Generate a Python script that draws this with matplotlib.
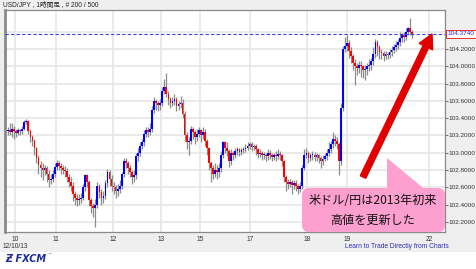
import matplotlib
matplotlib.use("Agg")
import matplotlib.pyplot as plt
from matplotlib.patches import FancyBboxPatch, Polygon, FancyArrow
from matplotlib.transforms import IdentityTransform, blended_transform_factory

plt.rcParams['font.family'] = ['Liberation Sans', 'Noto Sans CJK JP', 'DejaVu Sans']

# ---------------- data ----------------
first_open = 103.25
closes = [
    103.26, 103.24, 103.27, 103.25, 103.23, 103.26, 103.25, 103.28, 103.36, 103.37,
    103.25, 103.18, 103.14, 103.05, 102.94, 102.86, 102.82, 102.80, 102.82, 102.76,
    102.68, 102.70, 102.76, 102.84, 102.88, 102.85, 102.82, 102.80, 102.79, 102.72,
    102.66, 102.62, 102.52, 102.48, 102.45, 102.47, 102.48, 102.60, 102.74, 102.66,
    102.45, 102.38, 102.36, 102.40, 102.62, 102.55, 102.48, 102.50, 102.65, 102.78,
    102.70, 102.62, 102.60, 102.56, 102.58, 102.62, 102.75, 102.90, 102.88, 102.82,
    102.78, 102.72, 102.74, 102.96, 103.00, 103.08, 103.12, 103.22, 103.26, 103.24,
    103.28, 103.50, 103.60, 103.57, 103.55, 103.58, 103.72, 103.76, 103.68, 103.62,
    103.58, 103.60, 103.62, 103.54, 103.56, 103.58, 103.45, 103.20, 103.12, 103.14,
    103.28, 103.24, 103.18, 103.22, 103.26, 103.20, 103.24, 103.14, 103.05, 102.88,
    102.82, 102.76, 102.80, 102.78, 102.82, 102.98, 103.12, 103.06, 103.02, 102.90,
    103.00, 102.98, 103.02, 103.04, 103.01, 103.03, 103.04, 103.06, 103.08, 103.10,
    103.07, 103.08, 103.04, 102.99, 103.00, 102.97, 102.98, 102.96, 103.00, 102.98,
    102.95, 102.97, 102.96, 102.99, 102.97, 102.90, 102.72, 102.66, 102.64, 102.66,
    102.63, 102.65, 102.62, 102.58, 102.62, 102.82, 102.98, 103.00, 102.94, 102.97,
    102.98, 102.95, 102.97, 102.94, 102.90, 102.93, 102.96, 103.00, 103.04, 103.10,
    103.16, 103.14, 103.10, 102.90, 103.52, 104.20, 104.24, 104.27, 104.18, 104.12,
    104.04, 104.00, 103.98, 104.02, 104.00, 103.96, 103.97, 104.00, 104.02, 104.06,
    104.14, 104.28, 104.22, 104.17, 104.15, 104.12, 104.14, 104.13, 104.16, 104.19,
    104.22, 104.25, 104.28, 104.33, 104.36, 104.34, 104.40, 104.44, 104.40, 104.374,
]
highs = [
    103.30, 103.35, 103.34, 103.31, 103.28, 103.29, 103.28, 103.31, 103.38, 103.39,
    103.38, 103.27, 103.20, 103.16, 103.07, 102.98, 102.90, 102.88, 102.86, 102.85,
    102.80, 102.76, 102.80, 102.88, 102.92, 102.91, 102.88, 102.86, 102.85, 102.82,
    102.76, 102.72, 102.66, 102.56, 102.52, 102.52, 102.54, 102.64, 102.76, 102.76,
    102.68, 102.48, 102.42, 102.46, 102.66, 102.64, 102.58, 102.56, 102.68, 102.81,
    102.80, 102.74, 102.66, 102.63, 102.64, 102.68, 102.78, 102.94, 102.94, 102.90,
    102.86, 102.80, 102.80, 103.00, 103.06, 103.12, 103.16, 103.26, 103.30, 103.30,
    103.34, 103.54, 103.64, 103.62, 103.60, 103.62, 103.76, 103.85, 103.92, 103.72,
    103.65, 103.64, 103.68, 103.64, 103.60, 103.66, 103.62, 103.48, 103.24, 103.18,
    103.31, 103.30, 103.26, 103.28, 103.30, 103.28, 103.30, 103.27, 103.16, 103.07,
    102.90, 102.86, 102.88, 102.86, 102.88, 103.02, 103.14, 103.14, 103.12, 103.04,
    103.04, 103.02, 103.06, 103.07, 103.06, 103.06, 103.07, 103.10, 103.12, 103.12,
    103.12, 103.10, 103.10, 103.06, 103.04, 103.02, 103.01, 103.00, 103.04, 103.03,
    103.00, 103.00, 103.02, 103.04, 103.02, 102.99, 102.92, 102.74, 102.70, 102.70,
    102.68, 102.69, 102.68, 102.64, 102.66, 102.86, 103.04, 103.06, 103.02, 103.00,
    103.02, 103.01, 103.00, 102.99, 102.96, 102.97, 103.00, 103.04, 103.12, 103.14,
    103.24, 103.20, 103.18, 103.12, 103.58, 104.24, 104.34, 104.36, 104.30, 104.22,
    104.14, 104.08, 104.04, 104.06, 104.06, 104.02, 104.02, 104.04, 104.08, 104.10,
    104.22, 104.31, 104.30, 104.25, 104.20, 104.18, 104.18, 104.17, 104.20, 104.23,
    104.26, 104.29, 104.32, 104.40, 104.39, 104.40, 104.44, 104.46, 104.56, 104.42,
]
lows = [
    103.20, 103.20, 103.18, 103.16, 103.18, 103.20, 103.21, 103.22, 103.26, 103.33,
    103.22, 103.12, 103.08, 102.98, 102.88, 102.76, 102.72, 102.68, 102.74, 102.66,
    102.60, 102.64, 102.66, 102.72, 102.80, 102.80, 102.76, 102.75, 102.72, 102.66,
    102.60, 102.56, 102.44, 102.40, 102.38, 102.40, 102.42, 102.45, 102.56, 102.60,
    102.38, 102.30, 102.26, 102.14, 102.36, 102.48, 102.40, 102.42, 102.46, 102.60,
    102.62, 102.56, 102.52, 102.48, 102.50, 102.54, 102.58, 102.72, 102.82, 102.76,
    102.72, 102.64, 102.66, 102.70, 102.90, 102.96, 103.04, 103.08, 103.18, 103.18,
    103.20, 103.24, 103.46, 103.50, 103.48, 103.50, 103.54, 103.68, 103.64, 103.55,
    103.52, 103.54, 103.55, 103.48, 103.50, 103.52, 103.40, 103.14, 103.04, 102.98,
    103.10, 103.16, 103.10, 103.14, 103.18, 103.12, 103.16, 103.08, 102.98, 102.80,
    102.66, 102.70, 102.72, 102.70, 102.72, 102.78, 102.94, 103.00, 102.96, 102.84,
    102.86, 102.92, 102.94, 102.98, 102.96, 102.98, 103.00, 103.01, 103.03, 103.04,
    103.02, 103.03, 102.98, 102.94, 102.95, 102.92, 102.93, 102.90, 102.92, 102.93,
    102.90, 102.92, 102.91, 102.93, 102.92, 102.85, 102.66, 102.56, 102.58, 102.60,
    102.52, 102.58, 102.56, 102.52, 102.55, 102.58, 102.80, 102.94, 102.88, 102.90,
    102.92, 102.90, 102.90, 102.88, 102.82, 102.86, 102.90, 102.92, 102.96, 103.00,
    103.05, 103.08, 103.04, 102.74, 102.86, 103.48, 104.16, 104.18, 104.10, 104.04,
    103.96, 103.78, 103.90, 103.92, 103.88, 103.86, 103.84, 103.90, 103.94, 103.96,
    104.02, 104.10, 104.12, 104.08, 104.08, 104.06, 104.08, 104.08, 104.10, 104.12,
    104.15, 104.18, 104.20, 104.24, 104.28, 104.28, 104.30, 104.36, 104.36, 104.33,
]
last_price = 104.374
y_ticks = [102.2, 102.4, 102.6, 102.8, 103.0, 103.2, 103.4, 103.6, 103.8, 104.0, 104.2, 104.4]
x_tick_pos = [3.4, 23.6, 51.7, 75.4, 94.6, 119.2, 147.3, 167.0, 207.4]
x_tick_labels = ["10", "11", "12", "13", "15", "17", "18", "19", "22"]
title = "USD/JPY , 1時間足 , # 200 / 500"
date_label = "12/10/13"
link_text = "Learn to Trade Directly from Charts"
note_lines = ["米ドル/円は2013年初来", "高値を更新した"]

opens = [first_open] + closes[:-1]
idx = list(range(len(closes)))

# ---------------- figure ----------------
W, H = 477, 269
fig = plt.figure(figsize=(W / 100, H / 100), dpi=100, facecolor="#efefef")

def px(x, y):
    return (x, H - y)

# white strip at bottom
fig.patches.append(plt.Rectangle((0, 0), 1, 17 / H, transform=fig.transFigure,
                                 facecolor="white", edgecolor="none", zorder=0))

ax = fig.add_axes([5 / W, (H - 232) / H, 440 / W, 222 / H])
ax.set_facecolor("white")
ax.set_xlim(-1.5, 215.3)
ax.set_ylim(102.084, 104.651)

ax.grid(True, color="#e6e6e6", linewidth=1.2, zorder=0)
ax.set_axisbelow(True)

# candles
up_x = [i for i in idx if closes[i] >= opens[i]]
dn_x = [i for i in idx if closes[i] < opens[i]]
ax.vlines(idx, lows, highs, color="#8c8c8c", linewidth=0.9, zorder=2)
def bodies(sel, color):
    bottoms = [min(opens[i], closes[i]) for i in sel]
    heights = [max(abs(closes[i] - opens[i]), 0.012) for i in sel]
    ax.bar(sel, heights, bottom=bottoms, width=0.85, color=color, linewidth=0, zorder=3)
bodies(up_x, "#0000ff")
bodies(dn_x, "#ff0000")

ax.axhline(last_price, color="#3d3df0", linewidth=0.8, linestyle=(0, (3, 2)), zorder=4)

# axes styling
ax.yaxis.tick_right()
ax.set_yticks(y_ticks)
ax.set_yticklabels([f"{v:.4f}" if v < 104.3 else "" for v in y_ticks])
ax.set_xticks(x_tick_pos)
ax.set_xticklabels(x_tick_labels)
ax.tick_params(axis="y", which="both", labelsize=4.6, labelcolor="#333333",
               length=2.0, color="#777777", pad=0.3)
ax.tick_params(axis="x", labelsize=4.8, labelcolor="#333333", length=0, pad=3)
for s in ["top", "bottom", "right"]:
    ax.spines[s].set_color("#8a8a8a")
    ax.spines[s].set_linewidth(0.9)
ax.spines["left"].set_color("#8a8a8a")
ax.spines["left"].set_linewidth(2.0)

# last-price box
tr = blended_transform_factory(ax.transAxes, ax.transData)
ax.text(1.006, last_price, f"{last_price:.4f}", transform=tr, fontsize=4.6,
        color="#2222ee", va="center", ha="left",
        bbox=dict(boxstyle="square,pad=0.2", facecolor="white", edgecolor="#e03030", linewidth=0.7),
        clip_on=False)

# texts
fig.text(3 / W, 1 - 5 / H, title, fontsize=4.8, color="#222222", va="center", ha="left")
fig.text(3 / W, 1 - 247 / H, date_label, fontsize=4.8, color="#333333", va="center", ha="left")
fig.text(397 / W, 1 - 247 / H, link_text, fontsize=4.8, color="#2d2db8", va="center", ha="center")
fig.text(5 / W, 1 - 259 / H, "Ƶ FXCM", fontsize=7, color="#1c2d9c", va="center", ha="left",
         family="DejaVu Sans", fontweight="bold", style="italic")
fig.text(47 / W, 1 - 255 / H, "™", fontsize=3, color="#1c2d9c", va="center", ha="left",
         family="DejaVu Sans")

# callout (pixel coordinates)
idt = IdentityTransform()
pink = "#fd9fcf"
box = FancyBboxPatch(px(302, 232), 143, 44, boxstyle="round,pad=0,rounding_size=7",
                     transform=idt, facecolor=pink, edgecolor="none", zorder=5)
fig.patches.append(box)
tri = Polygon([px(387, 158), px(387, 192), px(428, 192)], closed=True, transform=idt,
              facecolor=pink, edgecolor="none", zorder=5)
fig.patches.append(tri)

x0, y0 = px(363, 177)
x1, y1 = px(432, 34)
arr = FancyArrow(x0, y0, x1 - x0, y1 - y0, width=6, head_width=15, head_length=14,
                 length_includes_head=True, transform=idt, color="#e00000", zorder=6)
fig.patches.append(arr)

fig.text(373 / W, 1 - 201 / H, note_lines[0], fontsize=8.7, color="#111111",
         va="center", ha="center", zorder=7, family=['Noto Sans CJK JP', 'DejaVu Sans'])
fig.text(373 / W, 1 - 220 / H, note_lines[1], fontsize=8.7, color="#111111",
         va="center", ha="center", zorder=7, family=['Noto Sans CJK JP', 'DejaVu Sans'])

fig.savefig("out.png", dpi=100, facecolor=fig.get_facecolor())
